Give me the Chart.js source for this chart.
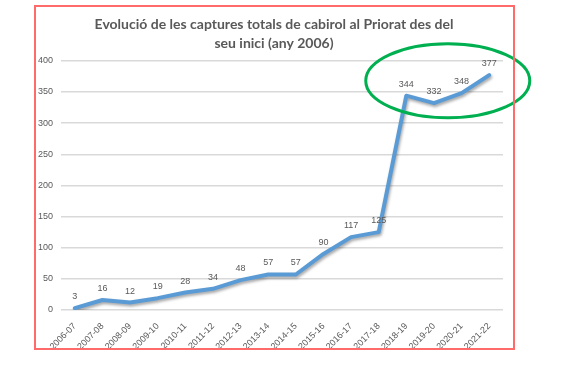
<!DOCTYPE html>
<html>
<head>
<meta charset="utf-8">
<script src="https://cdn.jsdelivr.net/npm/chart.js@4"></script>
<style>
    html, body { margin: 0; padding: 0; background: #fff; }
    #wrap { position: relative; width: 563px; height: 369px; }
    #frame { position: absolute; left: 34px; top: 5px; width: 477px; height: 341px; border: 2px solid #ff6b6b; pointer-events: none; }
</style>
</head>
<body>
<div id="wrap">
    <canvas id="chart" width="563" height="369"></canvas>
    <div id="frame"></div>
</div>
<script>
const seasons = ['2006-07', '2007-08', '2008-09', '2009-10', '2010-11', '2011-12', '2012-13', '2013-14',
    '2014-15', '2015-16', '2016-17', '2017-18', '2018-19', '2019-20', '2020-21', '2021-22'];
const captures = [3, 16, 12, 19, 28, 34, 48, 57, 57, 90, 117, 125, 344, 332, 348, 377];
const titleLines = ['Evolució de les captures totals de cabirol al Priorat des del', 'seu inici (any 2006)'];

// Shadow under the line + value labels above the points
const labelsPlugin = {
    id: 'valueLabels',
    beforeDatasetDraw(chart) {
        const ctx = chart.ctx;
        ctx.save();
        ctx.shadowColor = 'rgba(0,0,0,0.35)';
        ctx.shadowBlur = 3;
        ctx.shadowOffsetX = 1;
        ctx.shadowOffsetY = 2;
    },
    afterDatasetDraw(chart) {
        chart.ctx.restore();
    },
    afterDatasetsDraw(chart) {
        const ctx = chart.ctx;
        const meta = chart.getDatasetMeta(0);
        ctx.save();
        ctx.font = '9px "Liberation Sans", Arial, sans-serif';
        ctx.fillStyle = '#595959';
        ctx.textAlign = 'center';
        ctx.textBaseline = 'bottom';
        meta.data.forEach((pt, i) => {
            ctx.fillText(String(captures[i]), pt.x, pt.y - 7);
        });
        ctx.restore();
    }
};

// Green ellipse around the last four seasons
const ellipsePlugin = {
    id: 'ellipse',
    afterDraw(chart) {
        const x = chart.scales.x, y = chart.scales.y;
        const cx = (x.getPixelForValue(12) + x.getPixelForValue(15)) / 2;
        const cy = y.getPixelForValue(368);
        const ctx = chart.ctx;
        ctx.save();
        ctx.strokeStyle = '#00b050';
        ctx.lineWidth = 3;
        ctx.beginPath();
        ctx.ellipse(cx, cy, 82, 37, 0, 0, Math.PI * 2);
        ctx.stroke();
        ctx.restore();
    }
};

new Chart(document.getElementById('chart'), {
    type: 'line',
    data: {
        labels: seasons,
        datasets: [{
            data: captures,
            borderColor: '#5b9bd5',
            borderWidth: 4,
            pointRadius: 0,
            tension: 0,
            borderJoinStyle: 'round',
            borderCapStyle: 'round'
        }]
    },
    options: {
        responsive: false,
        animation: false,
        layout: { padding: { left: 35, right: 50, top: 15, bottom: 0 } },
        plugins: {
            legend: { display: false },
            tooltip: { enabled: false },
            title: {
                display: true,
                text: titleLines,
                color: '#595959',
                font: { family: 'Lato, sans-serif', size: 14, weight: 'bold', lineHeight: 1.35 },
                padding: { top: 0, bottom: 8 }
            }
        },
        scales: {
            x: {
                offset: true,
                grid: { display: false },
                border: { display: false },
                ticks: {
                    color: '#595959',
                    font: { family: '"Liberation Sans", Arial, sans-serif', size: 9 },
                    maxRotation: 45,
                    minRotation: 45,
                    padding: 3,
                    autoSkip: false
                },
                afterFit(scale) { scale.height = 59; }
            },
            y: {
                min: 0,
                max: 400,
                ticks: {
                    stepSize: 50,
                    color: '#595959',
                    font: { family: '"Liberation Sans", Arial, sans-serif', size: 9 },
                    padding: 8
                },
                grid: { color: '#d9d9d9', lineWidth: 1.5, drawTicks: false },
                border: { display: false },
                afterFit(scale) { scale.width = 26; }
            },
            // empty spacer on the right so the plot ends before the frame
            yRight: {
                position: 'right',
                min: 0,
                max: 400,
                ticks: { display: false },
                grid: { display: false },
                border: { display: false },
                afterFit(scale) { scale.width = 10; }
            }
        }
    },
    plugins: [labelsPlugin, ellipsePlugin]
});
</script>
</body>
</html>
